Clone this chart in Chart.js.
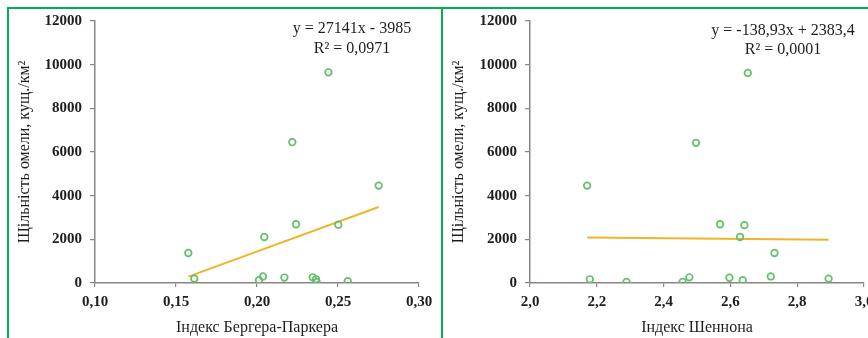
<!DOCTYPE html>
<html><head><meta charset="utf-8">
<script src="https://cdn.jsdelivr.net/npm/chart.js@4.4.1/dist/chart.umd.min.js"></script>
<style>
html,body{margin:0;padding:0;background:#fff;width:868px;height:338px;overflow:hidden;position:relative}
.cv{position:absolute;top:0}
.gl{position:absolute;background:#00b050}
</style></head><body>
<div class="cv" style="left:0;width:444px;height:338px"><canvas id="c1"></canvas></div>
<div class="cv" style="left:434px;width:456px;height:338px"><canvas id="c2"></canvas></div>
<div class="gl" style="left:7px;top:7px;width:861px;height:2px"></div>
<div class="gl" style="left:7px;top:7px;width:2px;height:331px"></div>
<div class="gl" style="left:441px;top:7px;width:2px;height:331px"></div>
<script>
// ---- data ----
const bergerX = [0.1576,0.1613,0.2012,0.2037,0.2045,0.2169,0.2218,0.2241,0.2344,0.2364,0.2368,0.2441,0.2502,0.2560,0.2751];
const bergerY = [1374,200,130,300,2107,250,6450,2690,260,170,50,9650,2670,80,4460];
const shannonX = [2.171,2.179,2.289,2.457,2.477,2.497,2.569,2.597,2.629,2.637,2.642,2.652,2.721,2.732,2.894];
const shannonY = [4460,170,50,50,260,6420,2690,240,2107,130,2650,9620,300,1374,200];
const bergerTrend = {slope:27141, intercept:-3985, xFrom:0.1576, xTo:0.2751};
const shannonTrend = {slope:-138.93, intercept:2383.4, xFrom:2.171, xTo:2.894};
const bergerTicks = ['0,10','0,15','0,20','0,25','0,30'];
const shannonTicks = ['2,0','2,2','2,4','2,6','2,8','3,0'];
const yTicks = ['0','2000','4000','6000','8000','10000','12000'];
const yTitle = 'Щільність омели, кущ./км²';
const bergerTitle = 'Індекс Бергера-Паркера';
const shannonTitle = 'Індекс Шеннона';
const bergerEq = ['y = 27141x - 3985','R² = 0,0971'];
const shannonEq = ['y = -138,93x + 2383,4','R² = 0,0001'];

const FONT = "'Liberation Serif', 'Times New Roman', serif";
const TXT = '#1e1e1e';
const AX = '#8c8484';

function eqPlugin(lines, cx, y1, y2){
  return {id:'eq', afterDraw(chart){
    const ctx = chart.ctx; ctx.save();
    ctx.font = '16px ' + FONT; ctx.fillStyle = TXT;
    ctx.textAlign = 'center'; ctx.textBaseline = 'middle';
    ctx.fillText(lines[0], cx, y1);
    ctx.fillText(lines[1], cx, y2);
    ctx.restore();
  }};
}

function makeChart(id, xs, ys, trend, xmin, xmax, xstep, xticks, xTitle, padRight, yW, eq, eqX, eqY1, eqY2){
  const pts = xs.map((x,i)=>({x:x, y:ys[i]}));
  const line = [trend.xFrom, trend.xTo].map(x=>({x:x, y:trend.slope*x+trend.intercept}));
  return new Chart(document.getElementById(id), {
    type:'scatter',
    data:{datasets:[
      {data:line, type:'line', showLine:true, borderColor:'#f1b32c', borderWidth:2, pointRadius:0, order:1},
      {data:pts, pointRadius:3.3, pointBorderWidth:1.7, pointBorderColor:'#62c068', pointBackgroundColor:'rgba(0,0,0,0)', order:0}
    ]},
    options:{
      responsive:true, maintainAspectRatio:false, animation:false,
      layout:{padding:{top:21, right:padRight, bottom:0, left:0}},
      plugins:{legend:{display:false}, tooltip:{enabled:false}},
      scales:{
        x:{type:'linear', min:xmin, max:xmax,
          afterBuildTicks(s){ s.ticks = xticks.map((t,i)=>({value: xmin + i*xstep})); },
          afterFit(s){ s.height = 55; },
          border:{color:AX, width:1.5},
          grid:{drawOnChartArea:false, drawTicks:true, tickLength:4, color:AX, lineWidth:1.2},
          ticks:{padding:6, color:TXT, font:{family:FONT, size:15, weight:'bold'}, maxRotation:0,
            callback:(v,i)=>xticks[i]},
          title:{display:true, text:xTitle, color:TXT, font:{family:FONT, size:16}, padding:{top:0,bottom:1}}
        },
        y:{type:'linear', min:0, max:12000,
          afterBuildTicks(s){ s.ticks = yTicks.map((t,i)=>({value:i*2000})); },
          afterFit(s){ s.width = yW; },
          border:{color:AX, width:1.5},
          grid:{drawOnChartArea:false, drawTicks:true, tickLength:5, color:AX, lineWidth:1.2},
          ticks:{padding:8, color:TXT, font:{family:FONT, size:15, weight:'bold'}, callback:(v,i)=>yTicks[i]},
          title:{display:true, text:yTitle, color:TXT, font:{family:FONT, size:16}, padding:{top:15,bottom:0}}
        }
      }
    },
    plugins:[eqPlugin(eq, eqX, eqY1, eqY2)]
  });
}
makeChart('c1', bergerX, bergerY, bergerTrend, 0.10, 0.30, 0.05, bergerTicks, bergerTitle, 25, 95, bergerEq, 352, 29, 49);
makeChart('c2', shannonX, shannonY, shannonTrend, 2.0, 3.0, 0.2, shannonTicks, shannonTitle, 26, 96, shannonEq, 349, 31, 50);
</script>
</body></html>
